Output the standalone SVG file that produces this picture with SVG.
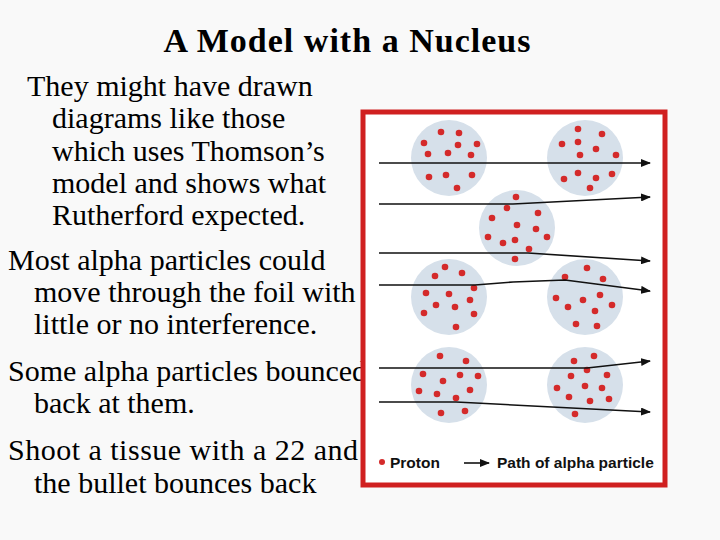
<svg xmlns="http://www.w3.org/2000/svg" width="720" height="540" viewBox="0 0 720 540">
<defs>
<style>
.t{font-family:"Liberation Serif",serif;font-size:30px;fill:#000}
.c{fill:#d6e0ea}
.p{fill:#d42a2a}
.a{fill:none;stroke:#111;stroke-width:1.6}
.lg{font-family:"Liberation Sans",Arial,sans-serif;font-size:15.5px;font-weight:bold;fill:#111}
</style>
<marker id="ah" markerWidth="10" markerHeight="8" refX="9" refY="4" orient="auto" markerUnits="userSpaceOnUse"><path d="M0,0 L10,4 L0,8 Z" fill="#111"/></marker>
</defs>
<rect width="720" height="540" fill="#f9f9f9"/>
<g id="text">
<text x="347" y="52" text-anchor="middle" textLength="367" style="font-family:'Liberation Serif',serif;font-size:34px;font-weight:bold">A Model with a Nucleus</text>
<text class="t" x="27" y="96">They might have drawn</text>
<text class="t" x="52" y="128">diagrams like those</text>
<text class="t" x="52" y="161">which uses Thomson’s</text>
<text class="t" x="52" y="193">model and shows what</text>
<text class="t" x="52" y="225">Rutherford expected.</text>
<text class="t" x="8" y="270">Most alpha particles could</text>
<text class="t" x="34" y="302">move through the foil with</text>
<text class="t" x="34" y="334">little or no interference.</text>
<text class="t" x="8" y="381">Some alpha particles bounced</text>
<text class="t" x="34" y="413">back at them.</text>
<text class="t" x="8" y="460" textLength="350">Shoot a tissue with a 22 and</text>
<text class="t" x="34" y="493">the bullet bounces back</text>
</g>
<g id="frame">
<rect x="363" y="112" width="302" height="373" fill="#fff" stroke="#d02020" stroke-width="5"/>
</g>
<g id="atoms">
<circle class="c" cx="449" cy="158" r="38"/><circle class="c" cx="585" cy="158" r="38"/>
<circle class="c" cx="517" cy="228" r="38"/>
<circle class="c" cx="449" cy="297" r="38"/><circle class="c" cx="585" cy="297" r="38"/>
<circle class="c" cx="449" cy="385" r="38"/><circle class="c" cx="585" cy="385" r="38"/>
<g class="p">
<circle cx="441" cy="132" r="3.3"/><circle cx="459" cy="133" r="3.3"/><circle cx="424" cy="143" r="3.3"/><circle cx="458" cy="145" r="3.3"/><circle cx="477" cy="144" r="3.3"/><circle cx="428" cy="154" r="3.3"/><circle cx="448" cy="153" r="3.3"/><circle cx="471" cy="155" r="3.3"/><circle cx="429" cy="177" r="3.3"/><circle cx="446" cy="175" r="3.3"/><circle cx="472" cy="175" r="3.3"/><circle cx="457" cy="188" r="3.3"/>
<circle cx="578" cy="129" r="3.3"/><circle cx="602" cy="134" r="3.3"/><circle cx="562" cy="144" r="3.3"/><circle cx="578" cy="142" r="3.3"/><circle cx="596" cy="149" r="3.3"/><circle cx="580" cy="155" r="3.3"/><circle cx="616" cy="155" r="3.3"/><circle cx="564" cy="179" r="3.3"/><circle cx="578" cy="173" r="3.3"/><circle cx="596" cy="178" r="3.3"/><circle cx="612" cy="174" r="3.3"/><circle cx="590" cy="188" r="3.3"/>
<circle cx="516" cy="197" r="3.3"/><circle cx="507" cy="208" r="3.3"/><circle cx="538" cy="213" r="3.3"/><circle cx="492" cy="218" r="3.3"/><circle cx="517" cy="225" r="3.3"/><circle cx="536" cy="229" r="3.3"/><circle cx="547" cy="237" r="3.3"/><circle cx="488" cy="237" r="3.3"/><circle cx="503" cy="243" r="3.3"/><circle cx="515" cy="240" r="3.3"/><circle cx="529" cy="249" r="3.3"/><circle cx="515" cy="259" r="3.3"/>
<circle cx="445" cy="267" r="3.3"/><circle cx="435" cy="276" r="3.3"/><circle cx="462" cy="273" r="3.3"/><circle cx="474" cy="288" r="3.3"/><circle cx="426" cy="293" r="3.3"/><circle cx="449" cy="294" r="3.3"/><circle cx="470" cy="300" r="3.3"/><circle cx="436" cy="305" r="3.3"/><circle cx="455" cy="307" r="3.3"/><circle cx="424" cy="313" r="3.3"/><circle cx="474" cy="314" r="3.3"/><circle cx="456" cy="327" r="3.3"/>
<circle cx="587" cy="268" r="3.3"/><circle cx="565" cy="277" r="3.3"/><circle cx="603" cy="279" r="3.3"/><circle cx="600" cy="295" r="3.3"/><circle cx="556" cy="298" r="3.3"/><circle cx="583" cy="300" r="3.3"/><circle cx="568" cy="307" r="3.3"/><circle cx="595" cy="311" r="3.3"/><circle cx="612" cy="305" r="3.3"/><circle cx="576" cy="324" r="3.3"/><circle cx="597" cy="326" r="3.3"/>
<circle cx="440" cy="356" r="3.3"/><circle cx="466" cy="361" r="3.3"/><circle cx="423" cy="374" r="3.3"/><circle cx="443" cy="381" r="3.3"/><circle cx="460" cy="375" r="3.3"/><circle cx="478" cy="376" r="3.3"/><circle cx="419" cy="391" r="3.3"/><circle cx="437" cy="394" r="3.3"/><circle cx="470" cy="390" r="3.3"/><circle cx="456" cy="398" r="3.3"/><circle cx="441" cy="413" r="3.3"/><circle cx="465" cy="411" r="3.3"/>
<circle cx="574" cy="361" r="3.3"/><circle cx="594" cy="356" r="3.3"/><circle cx="587" cy="370" r="3.3"/><circle cx="571" cy="376" r="3.3"/><circle cx="607" cy="375" r="3.3"/><circle cx="557" cy="388" r="3.3"/><circle cx="585" cy="386" r="3.3"/><circle cx="602" cy="388" r="3.3"/><circle cx="569" cy="397" r="3.3"/><circle cx="590" cy="401" r="3.3"/><circle cx="609" cy="399" r="3.3"/><circle cx="575" cy="414" r="3.3"/>
</g>
</g>
<g id="connectors">
<path class="a" marker-end="url(#ah)" d="M379,163 L650,163"/>
<path class="a" marker-end="url(#ah)" d="M379,204 L513,204 L650,197"/>
<path class="a" marker-end="url(#ah)" d="M379,253 L528,253 L650,261"/>
<path class="a" marker-end="url(#ah)" d="M379,285 L475,285 L513,282 L565,280 L650,291"/>
<path class="a" marker-end="url(#ah)" d="M379,368 L587,368 L650,361"/>
<path class="a" marker-end="url(#ah)" d="M379,402 L456,402 L650,412"/>
</g>
<g id="legend">
<circle class="p" cx="382" cy="462" r="3"/>
<text class="lg" x="390" y="468">Proton</text>
<path class="a" stroke-width="1" marker-end="url(#ah)" d="M464,463 L489,463"/>
<text class="lg" x="497" y="468">Path of alpha particle</text>
</g>
</svg>
